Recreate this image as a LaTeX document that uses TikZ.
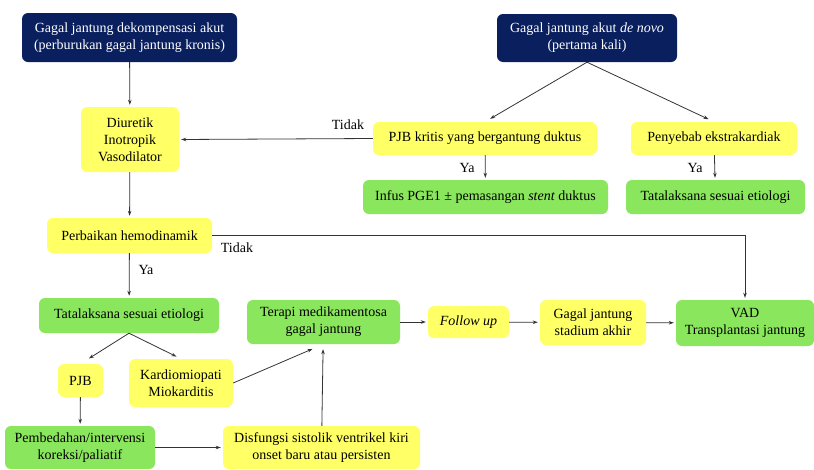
\documentclass[tikz,border=0pt]{standalone}
\usepackage{fontspec}
\setmainfont{Liberation Serif}
\newfontfamily\tulisan{Liberation Serif}
\usepackage{tikz}
\usetikzlibrary{arrows.meta}

\definecolor{navy}{HTML}{0A1F5E}
\definecolor{kuning}{HTML}{FFFF66}
\definecolor{hijau}{HTML}{8AE65C}

\begin{document}
\begin{tikzpicture}[x=1pt, y=-1pt,
  every node/.style={font=\tulisan\fontsize{14}{17}\selectfont, align=center, inner sep=2pt},
  gelap/.style={fill=navy, text=white, rounded corners=6pt},
  kotakK/.style={fill=kuning, rounded corners=6pt},
  kotakH/.style={fill=hijau, rounded corners=6pt},
  panah/.style={-{Stealth[length=5pt,width=3.5pt]}, line width=0.8pt, draw=black!80, shorten >=2pt},
  lbl/.style={font=\tulisan\fontsize{14}{17}\selectfont}]

\useasboundingbox (0,0) rectangle (814,469);

% kolom kiri
\node[gelap, minimum width=215pt, minimum height=49pt] (dhf) at (129.5, 37.5) {Gagal jantung dekompensasi akut\\(perburukan gagal jantung kronis)};
\node[kotakK, minimum width=98pt, minimum height=65pt] (diur) at (130, 139.5) {Diuretik\\Inotropik\\Vasodilator};
\node[kotakK, minimum width=165pt, minimum height=35pt] (perb) at (129.5, 235.5) {Perbaikan hemodinamik};
\node[kotakH, minimum width=180pt, minimum height=35pt] (etioL) at (129, 315.5) {Tatalaksana sesuai etiologi};
\node[kotakK, minimum width=45pt, minimum height=33pt] (pjb) at (80.5, 380.5) {PJB};
\node[kotakK, minimum width=104pt, minimum height=48pt] (kardio) at (181, 383) {Kardiomiopati\\Miokarditis};
\node[kotakH, minimum width=150pt, minimum height=43pt] (bedah) at (80, 447.5) {Pembedahan/intervensi\\koreksi/paliatif};
\node[kotakK, minimum width=197pt, minimum height=43pt] (disf) at (321.5, 447.5) {Disfungsi sistolik ventrikel kiri\\onset baru atau persisten};

% kolom kanan
\node[gelap, minimum width=180pt, minimum height=48pt] (denovo) at (587, 38) {Gagal jantung akut \textit{de novo}\\(pertama kali)};
\node[kotakK, minimum width=224pt, minimum height=33pt] (pjbk) at (485, 138.5) {PJB kritis yang bergantung duktus};
\node[kotakK, minimum width=166pt, minimum height=33pt] (ekstra) at (714, 138.5) {Penyebab ekstrakardiak};
\node[kotakH, minimum width=245pt, minimum height=34pt] (infus) at (485.5, 197) {Infus PGE1 ± pemasangan \textit{stent} duktus};
\node[kotakH, minimum width=179pt, minimum height=34pt] (etioR) at (715.5, 197) {Tatalaksana sesuai etiologi};

% baris tengah
\node[kotakH, minimum width=153pt, minimum height=44pt] (terapi) at (323.5, 322) {Terapi medikamentosa\\gagal jantung};
\node[kotakK, minimum width=81pt, minimum height=32pt] (follow) at (468.5, 322) {\textit{Follow up}};
\node[kotakK, minimum width=106pt, minimum height=45pt] (stadium) at (593, 322.5) {Gagal jantung\\stadium akhir};
\node[kotakH, minimum width=138pt, minimum height=46pt] (vad) at (745, 323) {VAD\\Transplantasi jantung};

% label
\node[lbl] (tidak1) at (348, 125) {Tidak};
\node[lbl] (ya1) at (467, 168) {Ya};
\node[lbl] (ya2) at (695, 168) {Ya};
\node[lbl] (tidak2) at (237, 248) {Tidak};
\node[lbl] (ya3) at (146, 270) {Ya};

% panah
\draw[panah] (dhf) -- (diur);
\draw[panah] (diur) -- (perb);
\draw[panah, shorten >=6pt] (denovo.south) -- (pjbk.north);
\draw[panah, shorten >=6pt] (denovo.south) -- (ekstra.north);
\draw[panah] (pjbk.west) -- (diur.east);
\draw[panah] (pjbk) -- (infus);
\draw[panah] (ekstra) -- (etioR);
\draw[panah] (perb.east) -| (vad.north);
\draw[panah] (perb) -- (etioL);
\draw[panah, shorten >=10pt] (etioL.south) -- (pjb.north);
\draw[panah, shorten >=5pt] (etioL.south) -- (kardio.north);
\draw[panah, shorten >=12pt] (kardio.east) -- (terapi.south);
\draw[panah, shorten >=5pt] (disf) -- (terapi);
\draw[panah] (pjb) -- (bedah);
\draw[panah] (bedah) -- (disf);
\draw[panah] (terapi) -- (follow);
\draw[panah] (follow) -- (stadium);
\draw[panah] (stadium) -- (vad);

\end{tikzpicture}
\end{document}
